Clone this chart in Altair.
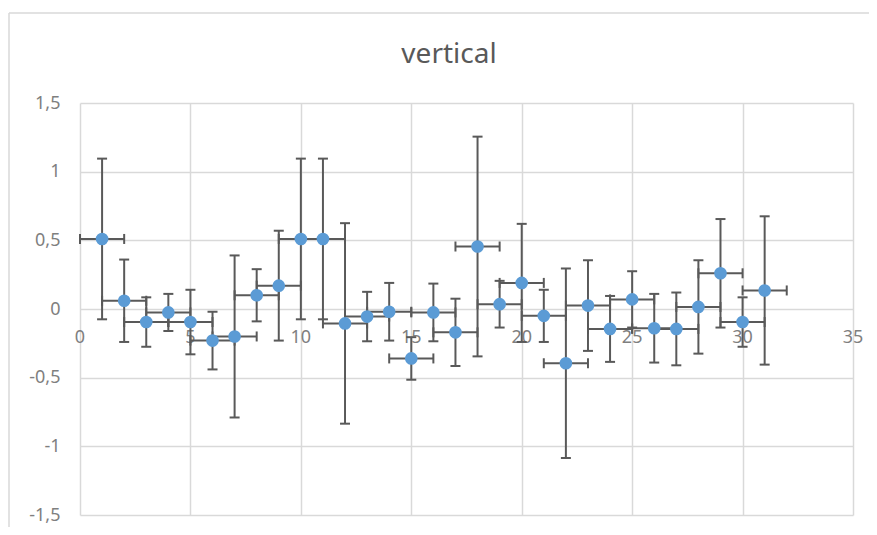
import altair as alt
import pandas as pd

# data
x_vals = list(range(1, 32))
y_vals = [0.51, 0.06, -0.095, -0.025, -0.095, -0.23, -0.20, 0.10, 0.17, 0.51,
          0.51, -0.105, -0.055, -0.02, -0.36, -0.025, -0.17, 0.455, 0.035, 0.19,
          -0.05, -0.395, 0.025, -0.145, 0.07, -0.14, -0.145, 0.015, 0.26, -0.095,
          0.135]
y_err = [0.585, 0.30, 0.18, 0.135, 0.235, 0.21, 0.59, 0.19, 0.40, 0.585,
         0.585, 0.73, 0.18, 0.21, 0.155, 0.21, 0.245, 0.80, 0.17, 0.43,
         0.19, 0.69, 0.33, 0.24, 0.205, 0.25, 0.265, 0.34, 0.395, 0.18,
         0.54]
x_err = [1] * 31

x_ticks = [0, 5, 10, 15, 20, 25, 30, 35]
y_ticks = [-1.5, -1, -0.5, 0, 0.5, 1, 1.5]
title_text = "vertical"

FONT = "Noto Sans"
LABEL_COLOR = "#7f7f7f"
BAR_COLOR = "#595959"
POINT_COLOR = "#5b9bd5"
GRID = "#d9d9d9"

df = pd.DataFrame({"x": x_vals, "y": y_vals, "yerr": y_err, "xerr": x_err})
df["ylo"] = df["y"] - df["yerr"]
df["yhi"] = df["y"] + df["yerr"]
df["xlo"] = df["x"] - df["xerr"]
df["xhi"] = df["x"] + df["xerr"]

xs = alt.Scale(domain=[0, 35], nice=False, zero=False)
ys = alt.Scale(domain=[-1.5, 1.5], nice=False, zero=False)

x_axis = alt.Axis(values=x_ticks, grid=True, gridColor=GRID, gridWidth=1.5,
                  labels=False, ticks=False, domain=False, title=None)
y_axis = alt.Axis(values=y_ticks, grid=True, gridColor=GRID, gridWidth=1.5,
                  ticks=False, domain=False, title=None,
                  labelExpr="replace(toString(datum.value), '.', ',')",
                  labelPadding=20, labelFontSize=18, labelColor=LABEL_COLOR,
                  labelFont=FONT)

base = alt.Chart(df)

grid = base.mark_point(opacity=0).encode(
    x=alt.X("x:Q", scale=xs, axis=x_axis),
    y=alt.Y("y:Q", scale=ys, axis=y_axis),
)

xlab_df = pd.DataFrame({"t": x_ticks, "zero": [0] * len(x_ticks)})
xlabels = alt.Chart(xlab_df).mark_text(
    font=FONT, fontSize=18, color=LABEL_COLOR, baseline="middle", dy=29
).encode(
    x=alt.X("t:Q", scale=xs),
    y=alt.Y("zero:Q", scale=ys),
    text=alt.Text("t:Q"),
)

vbars = base.mark_rule(color=BAR_COLOR, strokeWidth=2).encode(
    x=alt.X("x:Q", scale=xs), y=alt.Y("ylo:Q", scale=ys), y2="yhi:Q")
hbars = base.mark_rule(color=BAR_COLOR, strokeWidth=2).encode(
    x=alt.X("xlo:Q", scale=xs), x2="xhi:Q", y=alt.Y("y:Q", scale=ys))

cap_kw = dict(color=BAR_COLOR, thickness=2, size=10, opacity=1)
cap_top = base.mark_tick(orient="horizontal", **cap_kw).encode(
    x=alt.X("x:Q", scale=xs), y=alt.Y("yhi:Q", scale=ys))
cap_bot = base.mark_tick(orient="horizontal", **cap_kw).encode(
    x=alt.X("x:Q", scale=xs), y=alt.Y("ylo:Q", scale=ys))
cap_l = base.mark_tick(orient="vertical", **cap_kw).encode(
    x=alt.X("xlo:Q", scale=xs), y=alt.Y("y:Q", scale=ys))
cap_r = base.mark_tick(orient="vertical", **cap_kw).encode(
    x=alt.X("xhi:Q", scale=xs), y=alt.Y("y:Q", scale=ys))

points = base.mark_circle(color=POINT_COLOR, size=160, opacity=1).encode(
    x=alt.X("x:Q", scale=xs), y=alt.Y("y:Q", scale=ys))

title = alt.Chart(pd.DataFrame({"t": [title_text]})).mark_text(
    font=FONT, fontSize=28, color="#595959", baseline="alphabetic", align="center"
).encode(x=alt.value(369), y=alt.value(-40), text="t:N")

border_left = alt.Chart(pd.DataFrame({"a": [0]})).mark_rule(
    color=GRID, strokeWidth=1.5).encode(
    x=alt.value(-71), y=alt.value(-90), y2=alt.value(430))
border_top = alt.Chart(pd.DataFrame({"a": [0]})).mark_rule(
    color=GRID, strokeWidth=1.5).encode(
    x=alt.value(-71), x2=alt.value(800), y=alt.value(-90))

chart = alt.layer(
    grid, border_left, border_top, title, xlabels,
    vbars, hbars, cap_top, cap_bot, cap_l, cap_r, points
).properties(
    width=773, height=412,
    autosize=alt.AutoSizeParams(type="none"),
    padding={"left": 72, "top": 95, "right": 16, "bottom": 12},
).configure_view(stroke=None)

chart.save("out.html", embed_options={"renderer": "svg", "actions": False})
